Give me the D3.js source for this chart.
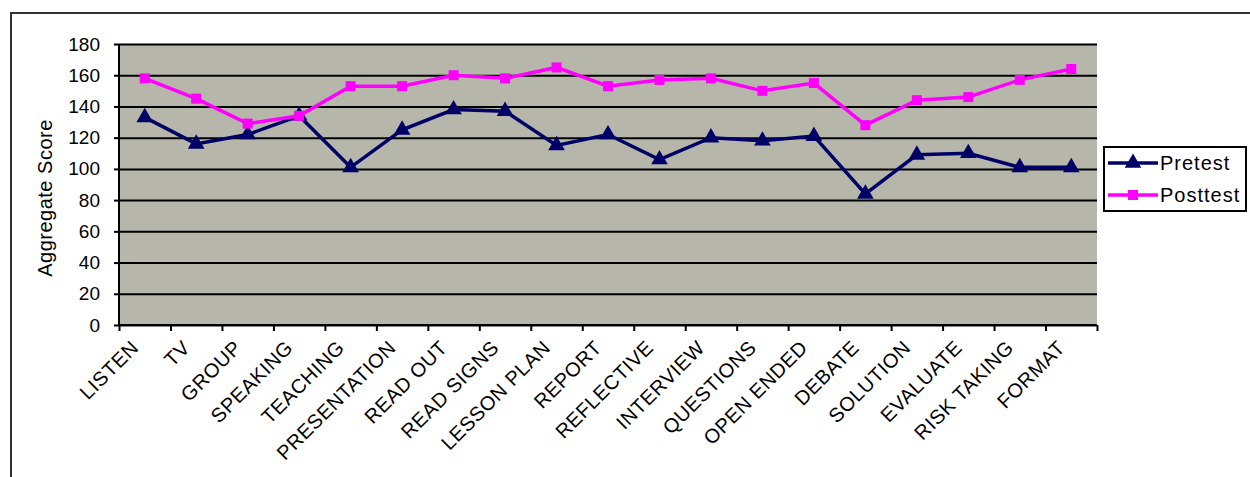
<!DOCTYPE html>
<html lang="en">
  <head>
    <meta charset="UTF-8" />
    <title>Pretest vs Posttest</title>
    <style>
      body { margin: 0; background: #fff; }
      svg { display: block; font-family: 'Liberation Sans', Arial, sans-serif; }
    </style>
  </head>
  <body>
    <svg id="svg" width="1250" height="477"></svg>

    <script src="https://d3js.org/d3.v7.min.js"></script>
    <script>
      // values
      const categories = ['LISTEN', 'TV', 'GROUP', 'SPEAKING', 'TEACHING', 'PRESENTATION',
        'READ OUT', 'READ SIGNS', 'LESSON PLAN', 'REPORT', 'REFLECTIVE', 'INTERVIEW',
        'QUESTIONS', 'OPEN ENDED', 'DEBATE', 'SOLUTION', 'EVALUATE', 'RISK TAKING', 'FORMAT'];
      const pretest = [133, 116, 122, 134, 101, 125, 138, 137, 115, 122, 106, 120, 118, 121, 84, 109, 110, 101, 101];
      const posttest = [158, 145, 129, 134, 153, 153, 160, 158, 165, 153, 157, 158, 150, 155, 128, 144, 146, 157, 164];
      const yTicks = [0, 20, 40, 60, 80, 100, 120, 140, 160, 180];
      const seriesNames = ['Pretest', 'Posttest'];

      const plotL = 119, plotR = 1097, plotT = 44, plotB = 325;
      const svg = d3.select('#svg');

      // outer chart border
      svg.append('rect')
        .attr('x', 11).attr('y', 13)
        .attr('width', 1260).attr('height', 500)
        .attr('fill', 'none').attr('stroke', '#333').attr('stroke-width', 2);

      const x = d3.scaleBand().domain(categories).range([plotL, plotR]);
      const xi = d3.scaleLinear().domain([0, categories.length]).range([plotL, plotR]);
      const y = d3.scaleLinear().domain([0, 180]).range([plotB, plotT]);
      const cx = (d) => x(d) + x.bandwidth() / 2;

      // plot area
      svg.append('rect')
        .attr('x', plotL).attr('y', plotT)
        .attr('width', plotR - plotL).attr('height', plotB - plotT)
        .attr('fill', '#b6b6aa');

      // gridlines
      svg.append('g')
        .attr('transform', `translate(${plotL},0)`)
        .call(d3.axisLeft(y).tickValues(yTicks).tickSize(-(plotR - plotL)).tickFormat(''))
        .call((g) => g.select('.domain').remove())
        .selectAll('line').attr('stroke', '#000').attr('stroke-width', 2);

      // y axis
      const yAxis = svg.append('g')
        .attr('transform', `translate(${plotL},0)`)
        .call(d3.axisLeft(y).tickValues(yTicks).tickSize(5).tickPadding(14));
      yAxis.select('.domain').attr('stroke', '#000').attr('stroke-width', 2).attr('d', `M0,${plotT}V${plotB}`);
      yAxis.selectAll('line').attr('stroke', '#000').attr('stroke-width', 2);
      yAxis.selectAll('text').attr('font-size', 19).attr('fill', '#000')
        .attr('font-family', "'Liberation Sans', Arial, sans-serif");

      // x axis, ticks between categories
      const xAxis = svg.append('g')
        .attr('transform', `translate(0,${plotB})`)
        .call(d3.axisBottom(xi).tickValues(d3.range(categories.length + 1)).tickSize(6).tickFormat(''));
      xAxis.select('.domain').attr('stroke', '#000').attr('stroke-width', 2).attr('d', `M${plotL},0H${plotR}`);
      xAxis.selectAll('line').attr('stroke', '#000').attr('stroke-width', 2);

      svg.append('g')
        .selectAll('text')
        .data(categories)
        .enter()
        .append('text')
        .attr('transform', (d) => `translate(${cx(d) - 5},${plotB + 24}) rotate(-45)`)
        .attr('text-anchor', 'end')
        .attr('font-size', 20)
        .attr('letter-spacing', 0.5)
        .attr('fill', '#000')
        .text((d) => d);

      // y axis title
      svg.append('text')
        .attr('transform', 'translate(52,198) rotate(-90)')
        .attr('text-anchor', 'middle')
        .attr('font-size', 20)
        .attr('letter-spacing', 0.5)
        .text('Aggregate Score');

      const line = d3.line().x((d, i) => cx(categories[i])).y((d) => y(d));
      const colors = ['#000066', '#ff00ff'];
      const symbols = [d3.symbolTriangle, d3.symbolSquare];
      const symSize = [120, 100];

      [pretest, posttest].forEach((vals, k) => {
        svg.append('path')
          .datum(vals)
          .attr('d', line)
          .attr('fill', 'none')
          .attr('stroke', colors[k])
          .attr('stroke-width', 3.5);
        svg.append('g')
          .selectAll('path')
          .data(vals)
          .enter()
          .append('path')
          .attr('transform', (d, i) => `translate(${cx(categories[i])},${y(d)})`)
          .attr('d', d3.symbol().type(symbols[k]).size(symSize[k]))
          .attr('fill', colors[k]);
      });

      // legend
      const lg = svg.append('g');
      lg.append('rect')
        .attr('x', 1104).attr('y', 147)
        .attr('width', 142).attr('height', 64)
        .attr('fill', '#fff').attr('stroke', '#000').attr('stroke-width', 2);
      seriesNames.forEach((name, k) => {
        const ly = 163 + k * 32;
        lg.append('line')
          .attr('x1', 1108).attr('x2', 1158)
          .attr('y1', ly).attr('y2', ly)
          .attr('stroke', colors[k]).attr('stroke-width', 3.5);
        lg.append('path')
          .attr('transform', `translate(1133,${ly})`)
          .attr('d', d3.symbol().type(symbols[k]).size(symSize[k]))
          .attr('fill', colors[k]);
        lg.append('text')
          .attr('x', 1160).attr('y', ly + 7)
          .attr('font-size', 20)
          .attr('letter-spacing', 1)
          .text(name);
      });
    </script>
  </body>
</html>
